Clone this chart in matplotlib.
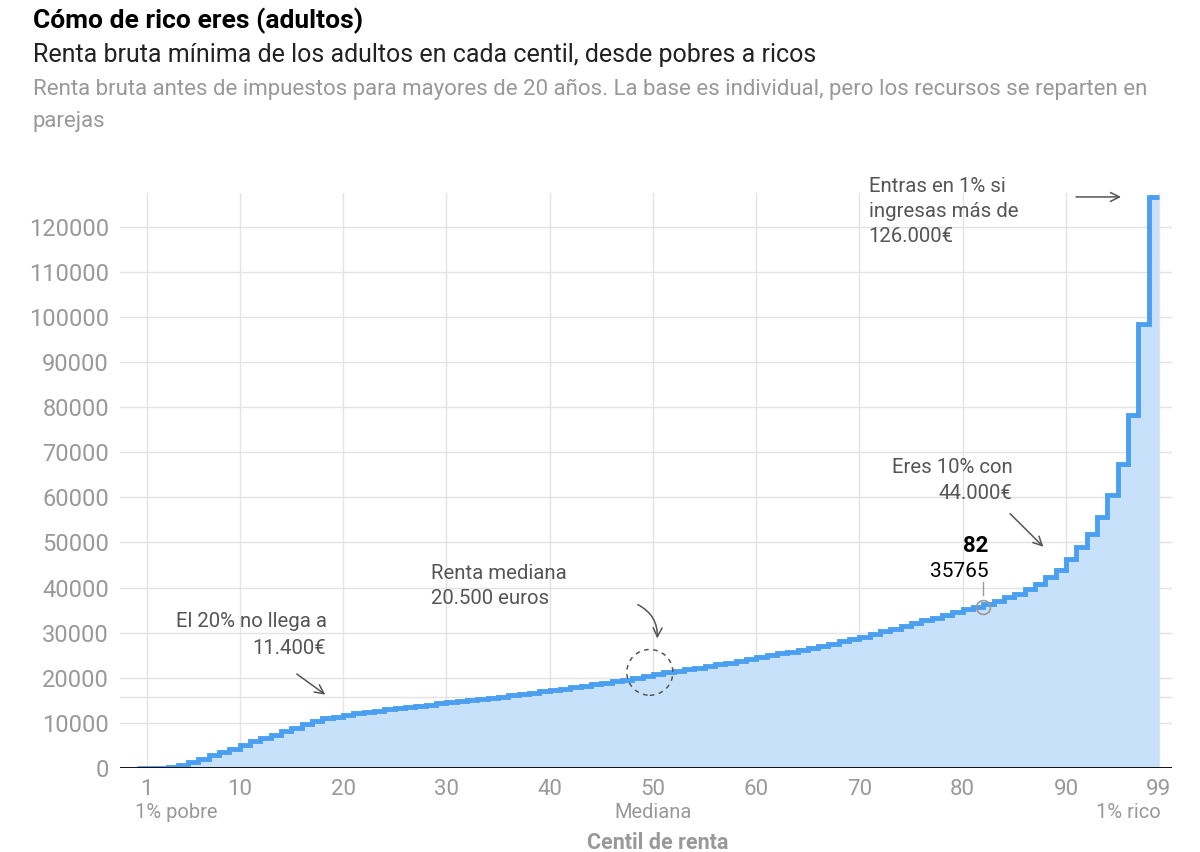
import numpy as np
import matplotlib.pyplot as plt
from matplotlib.patches import Ellipse
from matplotlib.transforms import blended_transform_factory

# Renta bruta minima por centil (1..99)
centiles = list(range(1, 100))
renta = [
    0, 0, 0, 150, 600, 1300, 2100, 2800, 3600, 4300,
    5100, 5900, 6700, 7400, 8200, 8900, 9700, 10400, 11000, 11400,
    11800, 12100, 12400, 12700, 13000, 13300, 13550, 13800, 14050, 14300,
    14550, 14800, 15050, 15300, 15550, 15800, 16100, 16400, 16700, 17000,
    17300, 17600, 17900, 18200, 18550, 18900, 19250, 19550, 19900, 20500,
    20850, 21200, 21550, 21900, 22250, 22600, 22950, 23300, 23700, 24200,
    24600, 25000, 25400, 25800, 26200, 26600, 27050, 27550, 28050, 28600,
    29100, 29700, 30300, 30900, 31500, 32100, 32700, 33300, 33900, 34600,
    35200, 35765, 36400, 37100, 37800, 38600, 39600, 40800, 42300, 44000,
    46400, 49000, 51800, 55700, 60600, 67500, 78300, 98500, 126500,
]
xticks = [1, 10, 20, 30, 40, 50, 60, 70, 80, 90, 99]
yticks = list(range(0, 130000, 10000))
extra_line = 15700

BLUE = '#4a9ff0'
FILL = '#c7e1fa'
GRAY = '#999999'
DARK = '#555555'

plt.rcParams['font.family'] = ['Roboto', 'DejaVu Sans']

fig = plt.figure(figsize=(12, 8.52), dpi=100)
ax = fig.add_axes([0.1, 0.0986, 0.877, 0.675])

edges = np.arange(0, len(renta) + 1)
ax.stairs(renta, edges, fill=True, color=FILL, zorder=2)
ax.stairs(renta, edges, baseline=None, color=BLUE, linewidth=3.5, zorder=3)

ax.set_xlim(-1.6, 100.3)
ax.set_ylim(0, 127500)
ax.set_xticks(xticks)
ax.set_yticks(yticks)
ax.tick_params(axis='y', length=0, labelsize=17, labelcolor=GRAY, pad=8)
ax.tick_params(axis='x', length=0, labelsize=16, labelcolor=GRAY, pad=8)
ax.grid(True, color='#e3e3e3', linewidth=1, zorder=0)
ax.axhline(extra_line, color='#e3e3e3', linewidth=1, zorder=0)
for s in ax.spines.values():
    s.set_visible(False)
ax.axhline(0, color='black', linewidth=1.3, zorder=4)

# etiquetas secundarias del eje x
tr = blended_transform_factory(ax.transData, ax.transAxes)
ax.text(-0.1, -0.078, '1% pobre', transform=tr, ha='left', va='center', fontsize=14.5, color=GRAY)
ax.text(50, -0.078, 'Mediana', transform=tr, ha='center', va='center', fontsize=14.5, color=GRAY)
ax.text(99.2, -0.078, '1% rico', transform=tr, ha='right', va='center', fontsize=14.5, color=GRAY)
ax.text(50.5, -0.13, 'Centil de renta', transform=tr, ha='center', va='center',
        fontsize=15.5, color=GRAY, fontweight='bold')

# anotaciones
arrow = dict(arrowstyle='->', color=DARK, lw=1.1, mutation_scale=16)
ax.text(18.4, 34500, 'El 20% no llega a\n11.400€', ha='right', va='top',
        fontsize=14.7, color=DARK, linespacing=1.5)
ax.annotate('', xy=(18.5, 15900), xytext=(15.3, 21200), arrowprops=arrow)

ax.text(28.5, 45300, 'Renta mediana\n20.500 euros', ha='left', va='top',
        fontsize=14.7, color=DARK, linespacing=1.45)
ax.annotate('', xy=(50.4, 28100), xytext=(48.3, 36500),
            arrowprops=dict(arrow, connectionstyle='arc3,rad=-0.35'))
ax.add_patch(Ellipse((49.7, 21200), 4.46, 10160, fill=False, edgecolor=DARK,
                     linestyle=(0, (3, 3)), linewidth=1.1, zorder=5))

ax.text(84.8, 68700, 'Eres 10% con\n44.000€', ha='right', va='top',
        fontsize=14.7, color=DARK, linespacing=1.45)
ax.annotate('', xy=(88.0, 48600), xytext=(84.4, 56800), arrowprops=arrow)

ax.text(70.9, 131050, 'Entras en 1% si\ningresas más de\n126.000€', ha='left', va='top',
        fontsize=14.7, color=DARK, linespacing=1.42, clip_on=False)
ax.annotate('', xy=(95.6, 126600), xytext=(90.7, 126600), arrowprops=arrow,
            annotation_clip=False)

# punto destacado
sel = 82
val = renta[centiles.index(sel)]
ax.plot([sel], [val], marker='o', markersize=10, markerfacecolor='none',
        markeredgecolor=GRAY, markeredgewidth=1.2, zorder=6)
ax.plot([sel, sel], [val + 2500, val + 5400], color=GRAY, linewidth=1, zorder=6)
ax.text(82.5, val + 13500, str(sel), ha='right', va='center', fontsize=16,
        fontweight='bold', color='black')
ax.text(82.5, val + 7800, str(val), ha='right', va='center', fontsize=15, color='black')

# titulos
fig.text(0.0275, 0.975, 'Cómo de rico eres (adultos)', ha='left', va='center',
         fontsize=19, fontweight='bold', color='black')
fig.text(0.0275, 0.936, 'Renta bruta mínima de los adultos en cada centil, desde pobres a ricos',
         ha='left', va='center', fontsize=18, color='#222222')
fig.text(0.0275, 0.895, 'Renta bruta antes de impuestos para mayores de 20 años. La base es individual, pero los recursos se reparten en',
         ha='left', va='center', fontsize=16, color=GRAY)
fig.text(0.0275, 0.857, 'parejas', ha='left', va='center', fontsize=16, color=GRAY)

fig.savefig('out.png', dpi=100)
